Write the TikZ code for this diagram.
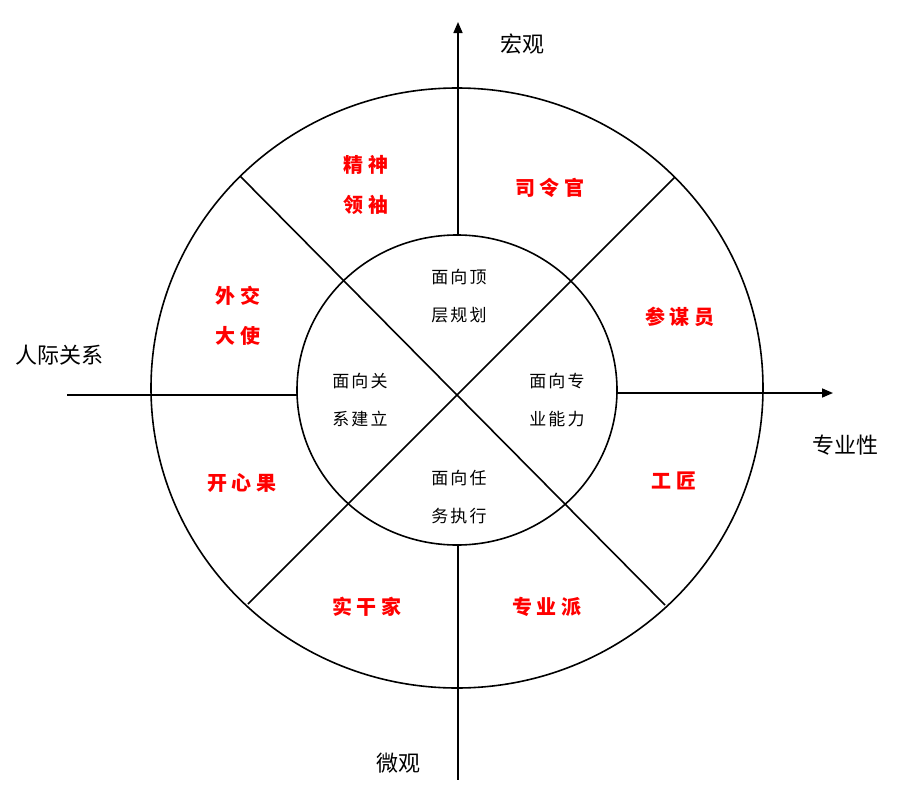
\documentclass[tikz,border=0pt]{standalone}
\usepackage{fontspec}
\setmainfont{Noto Sans CJK SC}
\usetikzlibrary{arrows.meta}
\begin{document}
\begin{tikzpicture}[x=1pt,y=-1pt,
  ln/.style={line width=1.6pt,black},
  ax/.style={line width=1.6pt,-{Triangle[length=11pt,width=9pt]}},
  role/.style={text=red,font=\fontsize{20}{40}\selectfont\bfseries\addfontfeature{LetterSpace=22},align=center},
  inner/.style={font=\fontsize{17}{38}\selectfont\addfontfeature{LetterSpace=12},align=center},
  axl/.style={font=\fontsize{22}{26}\selectfont}]
\useasboundingbox (0,0) rectangle (914,806);
\coordinate (c) at (457,388);
\draw[ln] (c) ellipse [x radius=306, y radius=300];
\draw[ln] (457,390) ellipse [x radius=160, y radius=155];
\coordinate (d1) at (240,176); \coordinate (d2) at (665,605);
\coordinate (d3) at (675,177); \coordinate (d4) at (248,604);
\draw[ln] (d1) -- (d2); \draw[ln] (d3) -- (d4);
\coordinate (it) at (458,236); \coordinate (ib) at (458,545);
\coordinate (il) at (298,395); \coordinate (ir) at (618,393);
\coordinate (top) at (458,22); \coordinate (bot) at (458,780);
\coordinate (lft) at (67,395); \coordinate (rgt) at (833,393);
\draw[ax] (it) -- (top);
\draw[ln] (ib) -- (bot);
\draw[ln] (lft) -- (il);
\draw[ax] (ir) -- (rgt);
\node[axl] (a1) at (522,44) {宏观};
\node[axl] (a2) at (398,763) {微观};
\node[axl] (a3) at (60,355) {人际关系};
\node[axl] (a4) at (845,445) {专业性};
\node[role] (r1) at (366,185) {精神\\领袖};
\node[role] (r2) at (550,188) {司令官};
\node[role] (r3) at (680,317) {参谋员};
\node[role] (r4) at (674,481) {工匠};
\node[role] (r5) at (547,607) {专业派};
\node[role] (r6) at (367,607) {实干家};
\node[role] (r7) at (242,483) {开心果};
\node[role] (r8) at (238,316) {外交\\大使};
\node[inner] (n1) at (459,296) {面向顶\\层规划};
\node[inner] (n2) at (557,400) {面向专\\业能力};
\node[inner] (n3) at (459,497) {面向任\\务执行};
\node[inner] (n4) at (360,400) {面向关\\系建立};
\end{tikzpicture}
\end{document}
